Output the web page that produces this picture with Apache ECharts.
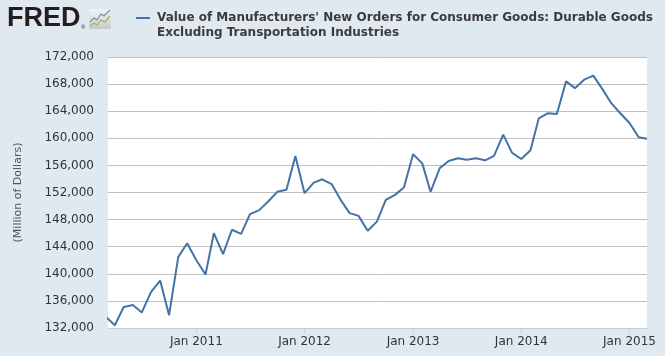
<!DOCTYPE html>
<html>
<head>
<meta charset="utf-8">
<script src="https://cdn.jsdelivr.net/npm/echarts@6/dist/echarts.min.js"></script>
<style>
html,body{margin:0;padding:0;background:#e1e9f0;}
#c{width:665px;height:356px;}
</style>
</head>
<body>
<div id="c"></div>
<script>
// Monthly observations, Mar 2010 .. Mar 2015 (Million of Dollars)
const startYear = 2010, startMonth = 2; // March (0-based)
const values = [
  133700, 132400, 135100, 135400, 134300, 137300, 139000, 133900, 142500, 144500,
  142000, 139900, 146000, 142900, 146500, 145900, 148800, 149400, 150700, 152100, 152400, 157400,
  151900, 153450, 153950, 153250, 150950, 148950, 148550, 146350, 147700, 150900, 151650, 152750,
  157650, 156300, 152100, 155600, 156650, 157050, 156850, 157050, 156750, 157400, 160550, 157850,
  156950, 158250, 162950, 163700, 163600, 168400, 167400, 168650, 169250, 167300, 165150, 163700,
  162250, 160150, 159950
];
const tickYears = [2011, 2012, 2013, 2014, 2015];
const yTicks = [132000, 136000, 140000, 144000, 148000, 152000, 156000, 160000, 164000, 168000, 172000];
const seriesName = "Value of Manufacturers' New Orders for Consumer Goods: Durable Goods\nExcluding Transportation Industries";
const yName = '(Million of Dollars)';

const data = values.map((v, i) => [Date.UTC(startYear, startMonth + i, 1), v]);
const tickVals = tickYears.map(y => Date.UTC(y, 0, 1));

const chart = echarts.init(document.getElementById('c'), null, {renderer: 'canvas'});
const font = 'DejaVu Sans';
chart.setOption({
  backgroundColor: '#e1e9f0',
  animation: false,
  textStyle: {fontFamily: font},
  grid: {left: 108, right: 18, top: 57, bottom: 28, show: true, backgroundColor: '#ffffff', borderWidth: 0},
  graphic: [
    {type: 'text', left: 7, top: 5, style: {text: 'FRED', fontFamily: 'Liberation Sans', fontWeight: 'bold', fontSize: 27, fill: '#231f20'}},
    {type: 'text', left: 81, top: 24, style: {text: '®', fontFamily: 'Liberation Sans', fontSize: 6, fill: '#231f20'}},
    {type: 'rect', shape: {x: 89, y: 9, width: 22, height: 20}, style: {fill: new echarts.graphic.LinearGradient(0,0,0,1,[{offset:0,color:'#f4f4f4'},{offset:1,color:'#c9c9c9'}])}},
    {type: 'polyline', shape: {points: [[90,22],[94,18],[97,20],[101,14],[104,16],[110,10]]}, style: {stroke: '#6b8fc0', lineWidth: 1.2, fill: null}},
    {type: 'polyline', shape: {points: [[90,26],[94,23],[97,25],[101,20],[105,22],[110,16]]}, style: {stroke: '#8bbf5a', lineWidth: 1.2, fill: null}},
    {type: 'line', shape: {x1: 136, y1: 18, x2: 150, y2: 18}, style: {stroke: '#4572a7', lineWidth: 2}},
    {type: 'text', left: 157, top: 10, style: {text: seriesName, fontFamily: font, fontWeight: 'bold', fontSize: 12, lineHeight: 15, fill: '#3b3b3b'}}
  ],
  xAxis: {
    type: 'value',
    min: Date.UTC(2010, 2, 9),
    max: Date.UTC(2015, 2, 1),
    axisLine: {show: true, lineStyle: {color: '#c0d0e0', width: 1}},
    axisTick: {show: true, length: 5, lineStyle: {color: '#c0d0e0'}, customValues: tickVals},
    axisLabel: {
      customValues: tickVals,
      color: '#333333', fontSize: 12, fontFamily: font, margin: 8,
      formatter: v => 'Jan ' + new Date(v).getUTCFullYear()
    },
    splitLine: {show: false}
  },
  yAxis: {
    type: 'value',
    min: yTicks[0],
    max: yTicks[yTicks.length - 1],
    interval: yTicks[1] - yTicks[0],
    name: yName,
    nameLocation: 'middle',
    nameRotate: 90,
    nameGap: 84,
    nameTextStyle: {color: '#555555', fontSize: 11, fontFamily: font},
    axisLine: {show: false},
    axisTick: {show: false},
    axisLabel: {color: '#333333', fontSize: 12, fontFamily: font, margin: 14,
      formatter: v => v.toLocaleString('en-US')},
    splitLine: {show: true, lineStyle: {color: '#c0c0c0', width: 1}}
  },
  series: [{
    type: 'line',
    data: data,
    showSymbol: false,
    symbol: 'none',
    lineStyle: {color: '#4572a7', width: 2},
    itemStyle: {color: '#4572a7'},
    clip: true
  }]
});
</script>
</body>
</html>
